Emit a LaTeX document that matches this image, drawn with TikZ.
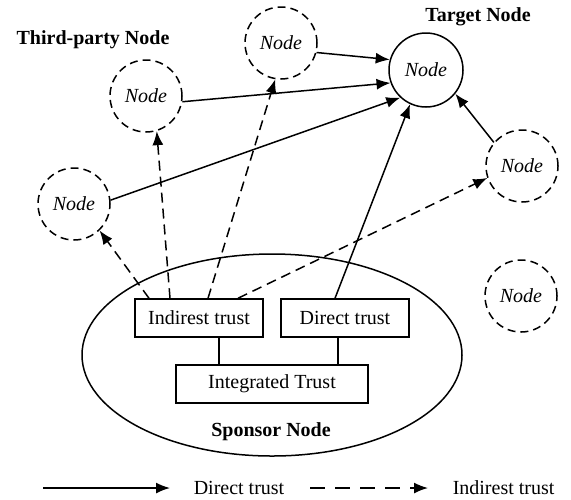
\documentclass[tikz,border=0pt]{standalone}
\usepackage{fontspec}
\setmainfont{Liberation Serif}
\usetikzlibrary{arrows.meta,shapes.geometric}

\begin{document}
\begin{tikzpicture}[x=0.5pt,y=-0.5pt,
line width=0.75pt,
font=\fontsize{10}{12}\selectfont,
peer/.style={
	circle,minimum size=36pt,inner sep=0pt,
	draw=black,
	font=\fontsize{10}{12}\selectfont\itshape},
far/.style={peer,dash pattern=on 4pt off 2.5pt},
trust/.style={
	rectangle,minimum width=64pt,minimum height=19pt,inner sep=0pt,
	draw=black},
title/.style={font=\fontsize{10}{12}\selectfont\bfseries},
legend/.style={anchor=west,inner sep=0pt},
direct/.style={-{Latex[length=7pt,width=5.5pt]}},
indirect/.style={direct,dash pattern=on 5pt off 3pt},
]
\useasboundingbox (0,0) rectangle (571,499);
\node[peer,minimum size=37pt] (target) at (426,70) {Node};
\node[far] (p1) at (281,43) {Node};
\node[far] (p2) at (146,96) {Node};
\node[far] (p3) at (74,204) {Node};
\node[far] (p4) at (522,166) {Node};
\node[far] (p5) at (521,296) {Node};
\node[title] (tplabel) at (93,40) {Third-party Node};
\node[title] (tglabel) at (478,17) {Target Node};
\node[draw,ellipse,minimum width=190pt,minimum height=101pt,inner sep=0pt] (sponsor) at (272,355) {};
\node[title] (splabel) at (271,432) {Sponsor Node};
\node[trust] (ind) at (199,318) {Indirest trust};
\node[trust] (dir) at (345,318) {Direct trust};
\node[trust,minimum width=96pt] (integ) at (272,384) {Integrated Trust};
\draw ([xshift=10pt]ind.south) -- ([xshift=10pt]ind.south |- integ.north);
\draw ([xshift=-3.5pt]dir.south) -- ([xshift=-3.5pt]dir.south |- integ.north);
\draw[direct] (p1.-15) -- (target.164);
\draw[direct] (p2.-9) -- (target.200);
\draw[direct] (p3.6) -- (target.227);
\draw[direct] ([xshift=-5pt]dir.north) -- (target.245);
\draw[direct] (p4.140) -- (target.321);
\draw[indirect] ([xshift=-25pt]ind.north) -- (p3.-46);
\draw[indirect] ([xshift=-14.5pt]ind.north) -- (p2.-73);
\draw[indirect] ([xshift=4.5pt]ind.north) -- (p1.-99);
\draw[indirect] ([xshift=19.5pt]ind.north) -- (p4.199);
\coordinate (d1) at (43,488);
\coordinate (d2) at (170,488);
\draw[direct] (d1) -- (d2);
\node[legend] (ldir) at (193,488) {Direct trust};
\coordinate (i1) at (310,488);
\coordinate (i2) at (428,488);
\draw[indirect,dash pattern=on 7.5pt off 5pt] (i1) -- (i2);
\node[legend] (lind) at (452,488) {Indirest trust};
\end{tikzpicture}
\end{document}
